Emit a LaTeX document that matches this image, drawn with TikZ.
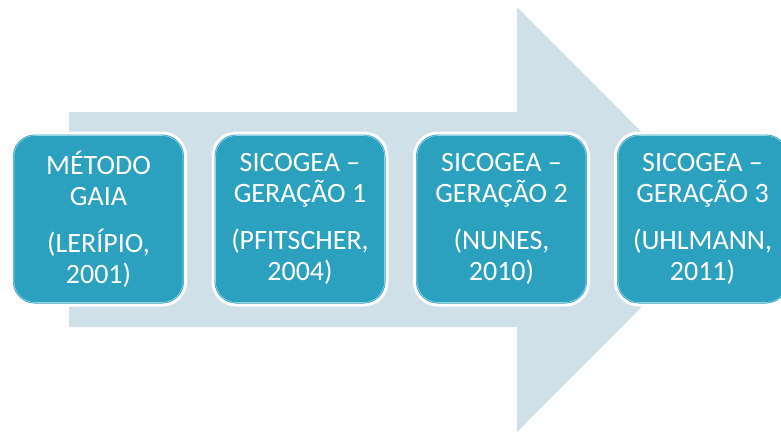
\documentclass[tikz,border=0pt]{standalone}
\usepackage{fontspec}
\setmainfont{Carlito}
\definecolor{stagefill}{RGB}{44,161,191}
\definecolor{stageline}{RGB}{150,210,226}
\definecolor{arrowfill}{RGB}{207,224,232}

\begin{document}
\begin{tikzpicture}[
    x=1pt, y=-1pt,
    stage/.style={
        rectangle,
        rounded corners=23pt,
        fill=stagefill,
        draw=white,
        line width=3pt,
        minimum width=174pt,
        minimum height=172pt,
        inner sep=0pt,
        align=center,
        text=white,
        font=\fontsize{28}{31}\selectfont,
    },
    inner/.style={
        rectangle,
        rounded corners=21pt,
        draw=stageline,
        line width=0.6pt,
        minimum width=169pt,
        minimum height=167pt,
        inner sep=0pt,
    },
]

\clip (0,0) rectangle (781,432);

% big arrow behind the stages
\fill[arrowfill] (69,112) -- (517,112) -- (517,7) -- (729,219.5)
    -- (517,432) -- (517,327) -- (69,327) -- cycle;

\node[stage] (s1) at (98.5,219) {MÉTODO\\GAIA\\[16pt](LERÍPIO,\\2001)};
\node[stage] (s2) at (300,219) {SICOGEA –\\GERAÇÃO 1\\[16pt](PFITSCHER,\\2004)};
\node[stage] (s3) at (501.5,219) {SICOGEA –\\GERAÇÃO 2\\[16pt](NUNES,\\2010)};
\node[stage] (s4) at (702.5,219) {SICOGEA –\\GERAÇÃO 3\\[16pt](UHLMANN,\\2011)};

\foreach \s in {s1,s2,s3,s4}
    \node[inner] at (\s) {};

\end{tikzpicture}
\end{document}
